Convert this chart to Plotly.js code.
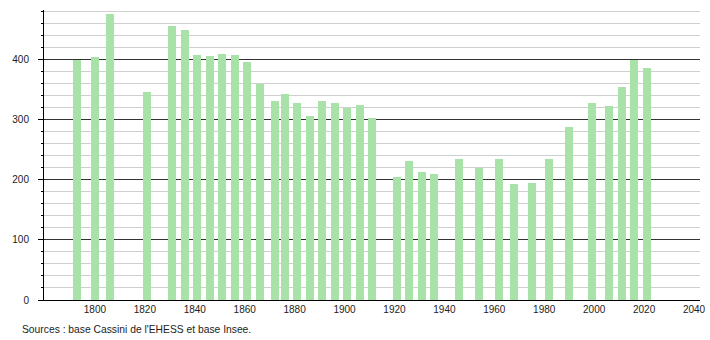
<!DOCTYPE html>
<html>
<head>
<meta charset="utf-8">
<script src="https://cdn.plot.ly/plotly-3.0.1.min.js"></script>
<style>html,body{margin:0;padding:0;background:#fff;}#chart{width:710px;height:340px;}</style>
</head>
<body>
<div id="chart"></div>
<script>
const years = [1793,1800,1806,1821,1831,1836,1841,1846,1851,1856,1861,1866,1872,1876,1881,1886,1891,1896,1901,1906,1911,1921,1926,1931,1936,1946,1954,1962,1968,1975,1982,1990,1999,2006,2011,2016,2021];
const population = [400,404,476,346,456,449,408,406,409,407,396,359,331,342,328,306,331,327,320,324,303,205,231,213,210,234,219,234,193,195,234,288,327,322,354,400,386];
const xTicks = [1800,1820,1840,1860,1880,1900,1920,1940,1960,1980,2000,2020,2040];
const yTicks = [0,100,200,300,400];
const sourceText = "Sources : base Cassini de l'EHESS et base Insee.";

const font = {family: '"Liberation Sans", Arial, sans-serif', size: 10, color: '#222'};

Plotly.newPlot('chart', [{
  type: 'bar',
  x: years,
  y: population,
  width: 3.2,
  marker: {color: '#a9e2a9', line: {width: 0}},
  hoverinfo: 'x+y'
}], {
  width: 710, height: 340,
  margin: {l: 44, r: 10, t: 10, b: 40},
  paper_bgcolor: '#fff', plot_bgcolor: '#fff',
  font: font,
  showlegend: false,
  bargap: 0,
  xaxis: {
    range: [1779.6, 2042.4],
    tickmode: 'array', tickvals: xTicks, ticktext: xTicks.map(String),
    ticks: '', showgrid: false, zeroline: false,
    showline: true, linecolor: '#000', linewidth: 1,
    tickfont: font
  },
  yaxis: {
    range: [0, 482.5],
    tickmode: 'array', tickvals: yTicks, ticktext: yTicks.map(String),
    ticks: 'outside', ticklen: 5, tickcolor: '#000', tickwidth: 1,
    showline: true, linecolor: '#000', linewidth: 1,
    showgrid: true, gridcolor: '#333', gridwidth: 1,
    zeroline: false,
    ticklabelstandoff: 7,
    tickfont: font,
    minor: {dtick: 20, tick0: 0, showgrid: true, gridcolor: '#cfcfcf', gridwidth: 1, ticks: 'outside', ticklen: 2, tickcolor: '#000'}
  },
  annotations: [{
    text: sourceText, xref: 'paper', yref: 'paper',
    x: -0.0366, y: -0.1, xanchor: 'left', yanchor: 'middle',
    showarrow: false, font: {family: '"Liberation Sans", Arial, sans-serif', size: 10.3, color: '#222'}
  }]
}, {staticPlot: true});
</script>
</body>
</html>
